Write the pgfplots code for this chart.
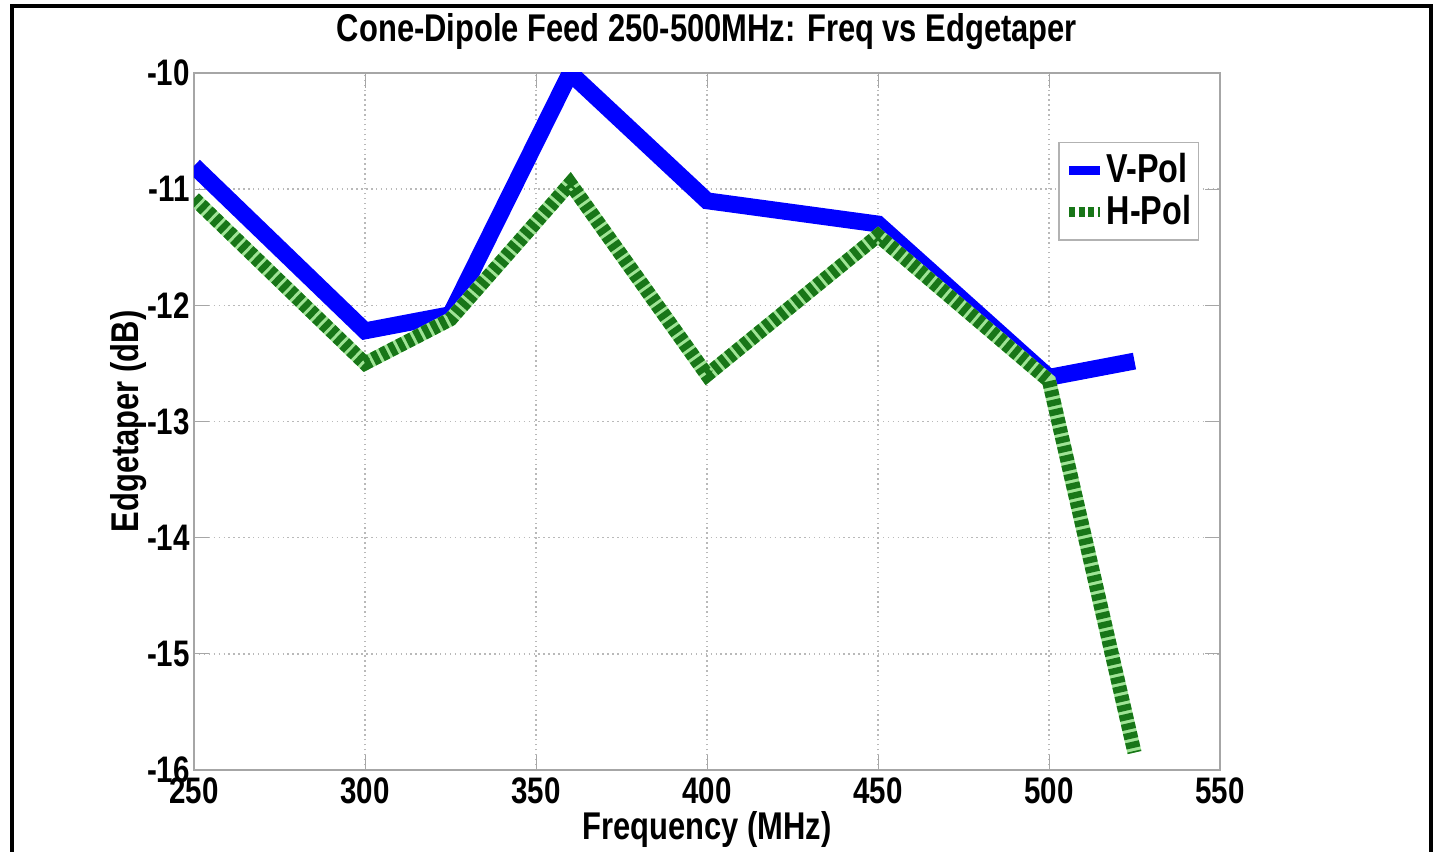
\documentclass[border=0pt]{standalone}
\usepackage{fontspec}
\setmainfont{Liberation Sans}[FakeStretch=0.8]
\usepackage{pgfplots}
\pgfplotsset{compat=1.18}
\definecolor{vblue}{RGB}{0,0,255}
\definecolor{hgreen}{RGB}{24,118,24}
\definecolor{hlight}{RGB}{160,228,150}
\begin{document}
\begin{tikzpicture}
\useasboundingbox (-1.94cm,-0.82cm) rectangle (12.51cm,7.70cm);
\draw[line width=0.9pt] (-1.82cm,-0.9cm) -- (-1.82cm,7.64cm) -- (12.37cm,7.64cm) -- (12.37cm,-0.9cm);
\begin{axis}[
  at={(0,0)}, anchor=south west, scale only axis,
  width=10.26cm, height=6.97cm,
  xmin=250, xmax=550, ymin=-16, ymax=-10,
  xtick={250,300,...,550}, ytick={-16,-15,...,-10},
  grid=major, grid style={densely dotted, gray!55},
  axis line style={gray!70}, tick style={gray!70},
  font=\fontsize{11}{13}\selectfont\bfseries,
  ticklabel style={font=\fontsize{10.5}{12}\selectfont\bfseries},
  yticklabel style={inner xsep=1pt},
  xticklabel style={inner ysep=2pt},
  /pgf/number format/assume math mode=true,
  title={Cone-Dipole Feed 250-500MHz: Freq vs Edgetaper},
  title style={at={(axis description cs:0.5,1.060)}, anchor=center, yshift=-6pt},
  xlabel={Frequency (MHz)},
  xlabel style={at={(axis description cs:0.5,-0.086)}, anchor=center},
  ylabel={Edgetaper (dB)},
  ylabel style={at={(axis description cs:-0.064,0.5)}, anchor=center},
  legend style={at={(0.9795,0.901)}, anchor=north east, draw=gray!60,
    font=\fontsize{11.5}{12}\selectfont\bfseries, inner xsep=1.5pt, inner ysep=1.5pt,
    nodes={inner xsep=0.5pt, inner ysep=1.5pt}, row sep=-1pt},
  legend cell align=left,
  legend image code/.code={\draw[#1, line width=2.8pt] (0cm,0cm) -- (0.31cm,0cm);},
]
\addplot[vblue, line width=4.8pt, line join=miter] coordinates {
 (250,-10.8) (300,-12.22) (325,-12.08) (360,-10.0) (400,-11.1) (450,-11.3) (500,-12.62) (525,-12.48)};
\addlegendentry{V-Pol}
\addplot[hlight, line width=4.0pt, forget plot] coordinates {
 (250,-11.08) (300,-12.5) (325,-12.12) (360,-10.95) (400,-12.6) (450,-11.4) (500,-12.65) (525,-15.85)};
\addplot[hgreen, line width=4.0pt, dash pattern=on 1.8pt off 0.9pt] coordinates {
 (250,-11.08) (300,-12.5) (325,-12.12) (360,-10.95) (400,-12.6) (450,-11.4) (500,-12.65) (525,-15.85)};
\addlegendentry{H-Pol}
\end{axis}
\end{tikzpicture}
\end{document}
